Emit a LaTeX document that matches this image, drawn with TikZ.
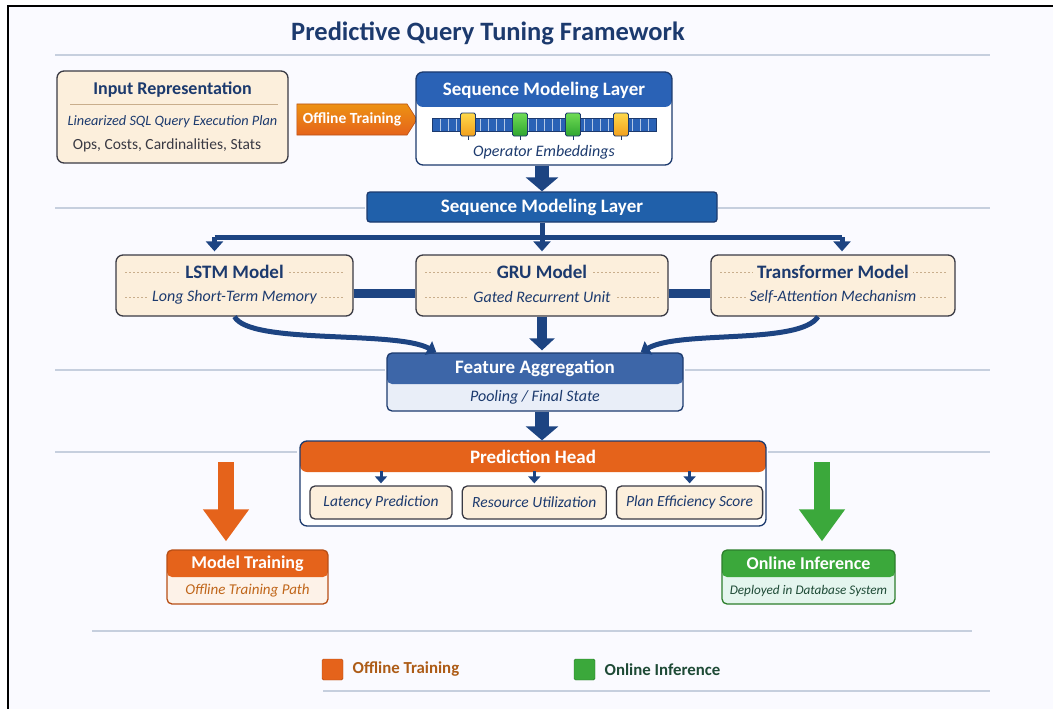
\documentclass[tikz,border=0pt]{standalone}
\usepackage{fontspec}
\setmainfont{Carlito}
\usetikzlibrary{arrows.meta,positioning,shapes.symbols}
\definecolor{navy}{HTML}{1C3A6E}
\definecolor{linkblue}{HTML}{1D4482}
\definecolor{hdrblue}{HTML}{2A62B6}
\definecolor{barblue}{HTML}{2060AA}
\definecolor{featblue}{HTML}{3D66A8}
\definecolor{featbody}{HTML}{E9EEF8}
\definecolor{beige}{HTML}{FCEFDC}
\definecolor{dashtan}{HTML}{C9AE8C}
\definecolor{boxedge}{HTML}{3A3A44}
\definecolor{orng}{HTML}{E5631B}
\definecolor{orngtext}{HTML}{C0661A}
\definecolor{orngbody}{HTML}{FDF2E8}
\definecolor{grn}{HTML}{3BA83B}
\definecolor{grnbody}{HTML}{E4F5EE}
\definecolor{grntext}{HTML}{1E4A36}
\definecolor{rulegray}{HTML}{C6CFDE}
\definecolor{yelA}{HTML}{FFD84A}
\definecolor{yelB}{HTML}{F2A01E}
\definecolor{grnA}{HTML}{6FDC55}
\definecolor{grnB}{HTML}{2FA52F}
\newcommand{\fsz}[1]{\fontsize{#1}{#1}\selectfont}
\tikzset{band/.style args={#1/#2}{path picture={\fill[#1] (path picture bounding box.north west) rectangle ([yshift=-#2]path picture bounding box.north east);}}}
\tikzstyle{panel} = [draw=boxedge, line width=1.3pt, rounded corners=7pt, inner sep=0pt]
\tikzstyle{hdr} = [text=white, font=\fsz{19}\bfseries]
\tikzstyle{sub} = [text=navy, font=\fsz{16}\itshape]
\tikzstyle{link} = [draw=linkblue, line width=5pt]
\tikzstyle{rul} = [draw=rulegray, line width=2pt]
\tikzstyle{bigdown} = [draw=linkblue, line width=14pt, -{Triangle[width=32pt,length=14pt]}]

\begin{document}
\begin{tikzpicture}[x=1pt,y=-1pt]
    \tikzstyle{model}=[panel, fill=beige, minimum height=61pt]
    \tikzstyle{mtitle}=[text=navy, font=\fsz{19}\bfseries, fill=beige, inner xsep=4pt, inner ysep=1pt]
    \tikzstyle{msub}=[sub, fill=beige, inner xsep=4pt, inner ysep=1pt]
    \tikzstyle{dots}=[draw=dashtan, line width=0.9pt, dash pattern=on 2pt off 2pt]
    \tikzstyle{output}=[panel, fill=beige, minimum width=142pt, minimum height=33pt, rounded corners=5pt,
      text=navy, font=\fsz{15.5}\itshape]
    \useasboundingbox (0,0) rectangle (1053,709);
    \fill[white!98!blue] (8,6) rectangle (1053,709);
    \draw[black, line width=2pt] (8,709) -- (8,6) -- (1053,6);

    % title and rules
    \node[text=navy, font=\fsz{26.5}\bfseries] (title) at (488,33) {Predictive Query Tuning Framework};
    \draw[rul] (55,55) -- (990,55);
    \draw[rul] (55,208) -- (365,208) (718,208) -- (990,208);
    \draw[rul] (55,370) -- (385,370) (685,370) -- (990,370);
    \draw[rul] (55,452) -- (297,452) (768,452) -- (990,452);
    \draw[rul] (92,631) -- (972,631);
    \draw[rul] (323,691) -- (990,691);

    % input side
    \node[panel, fill=beige, minimum width=231pt, minimum height=92pt] (input) at (172.5,117) {};
    \node[text=navy, font=\fsz{18}\bfseries] (inputtitle) at (172.5,90) {Input Representation};
    \draw[draw=dashtan, line width=1pt] (70,105) -- (278,105);
    \node[text=navy, font=\fsz{14.3}\itshape] (plan) at (172.5,122) {Linearized SQL Query Execution Plan};
    \node[text=boxedge, font=\fsz{15.5}] (stats) at (167,145) {Ops, Costs, Cardinalities, Stats};
    \node[signal, signal to=east, signal pointer angle=115, top color=orng!70!yellow, bottom color=orng,
      draw=orng!80!black, line width=0.6pt, minimum width=120pt, minimum height=31pt, inner sep=0pt,
      text=white, font=\fsz{15.5}\bfseries] (offline) at (352,119.5) {Offline Training};

    % embedding layer
    \node[panel, draw=navy, fill=white, band=hdrblue/35pt, minimum width=256pt, minimum height=93pt] (seqtop) at (544,118.5) {};
    \node[hdr] (seqtoptitle) at (544,90) {Sequence Modeling Layer};
    \fill[hdrblue] (432,118) rectangle (656,131);
    \foreach \x in {440,448,...,648}
      \draw[white!65!hdrblue, line width=0.8pt] (\x,118) -- (\x,131);
    \draw[navy, line width=0.8pt] (432,118) rectangle (656,131);
    \foreach \x/\ca/\cb in {468/yelA/yelB,520/grnA/grnB,573/grnA/grnB,621/yelA/yelB} {
      \draw[navy, line width=0.8pt] (\x,136) -- (\x,140);
      \shade[top color=\ca, bottom color=\cb, draw=navy, line width=0.8pt, rounded corners=1.5pt] (\x-7.5,113) rectangle (\x+7.5,136);
    }
    \node[sub] (embed) at (544,152) {Operator Embeddings};

    \node[panel, draw=navy, fill=barblue, rounded corners=3pt, minimum width=350pt, minimum height=30pt, hdr] (bar) at (542,207) {Sequence Modeling Layer};
    \draw[bigdown] (bar.north |- seqtop.south) -- (bar.north);

    % three sequence models
    \node[model, minimum width=237pt] (lstm) at (234.5,285.5) {};
    \node[model, minimum width=252pt] (gru) at (542,285.5) {};
    \node[model, minimum width=244pt] (trans) at (833,285.5) {};
    \foreach \m/\t/\s in {lstm/LSTM Model/Long Short-Term Memory,gru/GRU Model/Gated Recurrent Unit,trans/Transformer Model/Self-Attention Mechanism} {
      \draw[dots] ([xshift=10pt]\m.west |- 0,272) -- ([xshift=-10pt]\m.east |- 0,272);
      \draw[dots] ([xshift=10pt]\m.west |- 0,297) -- ([xshift=-10pt]\m.east |- 0,297);
      \node[mtitle] (\m title) at (\m.center |- 0,272) {\t};
      \node[msub] (\m sub) at (\m.center |- 0,297) {\s};
    }
    \coordinate (fan) at (542,237);
    \draw[link] (bar.south) -- (fan);
    \draw[link] ([xshift=-20pt]lstm.north |- fan) -- ([xshift=9pt]trans.north |- fan);
    \draw[link, -{Triangle[width=17pt,length=10pt]}, shorten >=3pt] ([xshift=-20pt]lstm.north |- fan) -- ([xshift=-20pt]lstm.north);
    \draw[link, -{Triangle[width=17pt,length=10pt]}, shorten >=3pt] (gru.north |- fan) -- (gru.north);
    \draw[link, -{Triangle[width=17pt,length=10pt]}, shorten >=3pt] ([xshift=9pt]trans.north |- fan) -- ([xshift=9pt]trans.north);
    \draw[link, line width=9pt] (lstm.east |- 0,293) -- (gru.west |- 0,293);
    \draw[link, line width=9pt] (gru.east |- 0,293) -- (trans.west |- 0,293);

    % aggregation
    \node[panel, draw=navy, fill=featbody, band=featblue/31pt, rounded corners=5pt, minimum width=296pt, minimum height=58pt] (feat) at (535,382) {};
    \node[hdr] (feattitle) at (535,368.5) {Feature Aggregation};
    \node[sub] (featsub) at (535,397) {Pooling / Final State};
    \draw[link, -{Triangle[width=15pt,length=9pt]}] (lstm.south) .. controls (250,345) and (395,330) .. ([xshift=50pt]feat.north west);
    \draw[link, -{Triangle[width=15pt,length=9pt]}] ([xshift=-15pt]trans.south) .. controls (800,345) and (680,330) .. ([xshift=-43pt]feat.north east);
    \draw[link, line width=10pt, -{Triangle[width=25pt,length=12pt]}, shorten >=2pt] (gru.south) -- (gru.south |- feat.north);

    % prediction head
    \node[panel, draw=navy, fill=white, band=orng/31pt, minimum width=466pt, minimum height=85pt] (pred) at (533,483.5) {};
    \node[hdr] (predtitle) at (533,456.5) {Prediction Head};
    \draw[bigdown] (gru.south |- feat.south) -- (gru.south |- pred.north);
    \node[output] (lat) at (381,502.5) {Latency Prediction};
    \node[output, minimum width=144pt, right=9pt of lat] (res) {Resource Utilization};
    \node[output, minimum width=146pt, right=9pt of res] (eff) {Plan Efficiency Score};
    \coordinate (predhdr) at ([yshift=-31pt]pred.north);
    \foreach \o in {lat,res,eff}
      \draw[link, line width=3pt, -{Triangle[width=12pt,length=7pt]}, shorten >=2pt] (\o.north |- predhdr) -- (\o.north);

    % training / inference paths
    \node[panel, draw=orng!80!black, fill=orngbody, band=orng/27pt, rounded corners=5pt, minimum width=161pt, minimum height=54pt] (train) at (247.5,577) {};
    \node[hdr, font=\fsz{18}\bfseries] (traintitle) at (247.5,563.5) {Model Training};
    \node[text=orngtext, font=\fsz{15}\itshape] (trainsub) at (247.5,591) {Offline Training Path};
    \node[panel, draw=grn!75!black, fill=grnbody, band=grn/27pt, rounded corners=5pt, minimum width=173pt, minimum height=54pt] (online) at (808.5,577) {};
    \node[hdr, font=\fsz{18}\bfseries] (onlinetitle) at (808.5,563.5) {Online Inference};
    \node[text=grntext, font=\fsz{13.2}\itshape] (onlinesub) at (808.5,591) {Deployed in Database System};
    \coordinate (trainsrc) at (226,462);
    \coordinate (onlinesrc) at (822,462);
    \draw[orng, line width=16pt, -{Triangle[width=44pt,length=32pt]}, shorten >=8pt] (trainsrc) -- (trainsrc |- train.north);
    \draw[grn, line width=16pt, -{Triangle[width=44pt,length=32pt]}, shorten >=8pt] (onlinesrc) -- (onlinesrc |- online.north);

    % legend
    \node[draw=orng!75!black, fill=orng, rounded corners=1.5pt, minimum size=21pt, inner sep=0pt] (keyoff) at (332.5,669.5) {};
    \node[right=6pt of keyoff, text=orngtext!90!black, font=\fsz{16.8}\bfseries] (keyofftext) {Offline Training};
    \node[draw=grn!70!black, fill=grn, rounded corners=1.5pt, minimum size=21pt, inner sep=0pt] (keyon) at (584.5,669.5) {};
    \node[right=6pt of keyon, text=grntext, font=\fsz{16.8}\bfseries] (keyontext) {Online Inference};
\end{tikzpicture}
\end{document}
